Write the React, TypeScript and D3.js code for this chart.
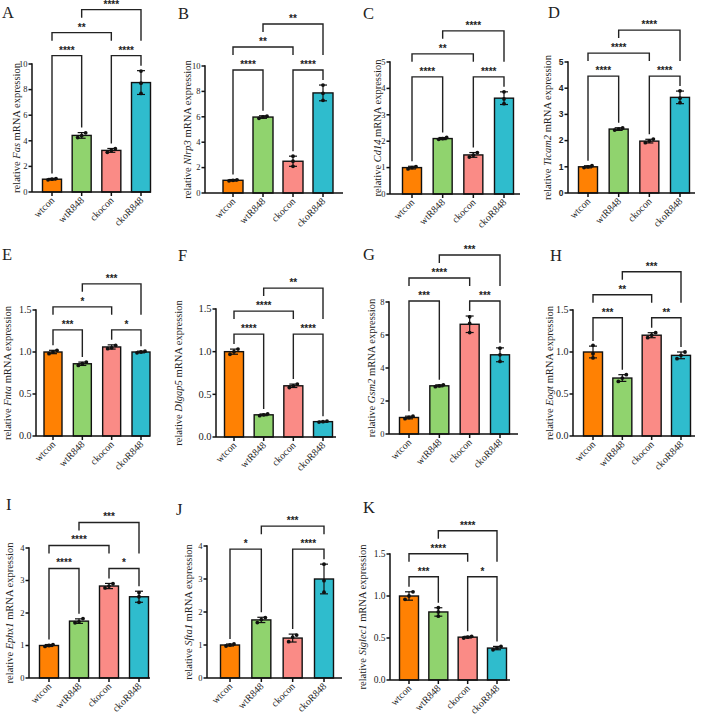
import React from "react"
import * as d3 from "d3"

const W = 702
const H = 719

const groups = ["wtcon", "wtR848", "ckocon", "ckoR848"]
const colors = ["#ff8103", "#90d36e", "#fa8b86", "#2fbccd"]

const letters = ["A", "B", "C", "D", "E", "F", "G", "H", "I", "J", "K"]
const genes = ["Fas", "Nlrp3", "Cd14", "Ticam2", "Fnta", "Dlgap5", "Gsm2", "Eogt", "Ephx1", "Sfta1", "Siglec1"]
const yMaxes = [10, 10, 5, 5, 1.5, 1.5, 8, 1.5, 4, 4, 1.5]
const yTickSteps = [2, 2, 1, 1, 0.5, 0.5, 2, 0.5, 1, 1, 0.5]

// mean relative expression per group, one row per gene
const means = [
  [1.0, 4.42, 3.25, 8.55],
  [1.0, 5.98, 2.5, 7.88],
  [1.0, 2.1, 1.48, 3.63],
  [1.0, 2.44, 1.98, 3.65],
  [1.0, 0.86, 1.06, 1.0],
  [1.0, 0.26, 0.6, 0.18],
  [1.0, 2.92, 6.65, 4.8],
  [1.0, 0.69, 1.2, 0.96],
  [1.0, 1.75, 2.83, 2.5],
  [1.0, 1.76, 1.21, 3.0],
  [1.0, 0.81, 0.51, 0.38],
]

// standard deviations
const sds = [
  [0.06, 0.22, 0.15, 0.93],
  [0.06, 0.1, 0.4, 0.62],
  [0.05, 0.04, 0.09, 0.24],
  [0.04, 0.05, 0.07, 0.24],
  [0.02, 0.02, 0.025, 0.01],
  [0.03, 0.01, 0.02, 0.005],
  [0.08, 0.06, 0.5, 0.42],
  [0.07, 0.04, 0.03, 0.04],
  [0.03, 0.07, 0.08, 0.17],
  [0.03, 0.08, 0.12, 0.45],
  [0.05, 0.05, 0.01, 0.02],
]

// three replicates per group
const replicates = [
  [[0.95, 1.0, 1.05], [4.25, 4.4, 4.62], [3.1, 3.25, 3.38], [7.7, 8.5, 9.45]],
  [[0.96, 1.0, 1.04], [5.88, 6.0, 6.05], [2.1, 2.5, 2.9], [7.3, 7.85, 8.5]],
  [[0.95, 1.0, 1.04], [2.07, 2.1, 2.14], [1.4, 1.47, 1.57], [3.42, 3.6, 3.87]],
  [[0.97, 1.0, 1.04], [2.4, 2.44, 2.48], [1.92, 1.98, 2.06], [3.45, 3.62, 3.9]],
  [[0.98, 1.0, 1.02], [0.84, 0.86, 0.88], [1.04, 1.05, 1.08], [0.99, 1.0, 1.01]],
  [[0.97, 1.0, 1.03], [0.25, 0.26, 0.27], [0.58, 0.6, 0.62], [0.175, 0.18, 0.185]],
  [[0.93, 1.0, 1.08], [2.87, 2.92, 2.98], [6.15, 6.7, 7.1], [4.4, 4.8, 5.2]],
  [[0.93, 0.98, 1.08], [0.65, 0.69, 0.73], [1.17, 1.2, 1.23], [0.92, 0.96, 1.0]],
  [[0.97, 1.0, 1.03], [1.7, 1.73, 1.83], [2.77, 2.83, 2.9], [2.33, 2.5, 2.63]],
  [[0.97, 1.0, 1.03], [1.68, 1.77, 1.83], [1.1, 1.24, 1.3], [2.6, 2.95, 3.45]],
  [[0.96, 1.0, 1.05], [0.76, 0.81, 0.86], [0.5, 0.51, 0.52], [0.36, 0.38, 0.4]],
]

// significance brackets: [from group, to group, tier, stars]
const brackets: [number, number, number, string][][] = [
  [[0, 1, 1, "****"], [2, 3, 1, "****"], [0, 2, 2, "**"], [1, 3, 3, "****"]],
  [[0, 1, 1, "****"], [2, 3, 1, "****"], [0, 2, 2, "**"], [1, 3, 3, "**"]],
  [[0, 1, 1, "****"], [2, 3, 1, "****"], [0, 2, 2, "**"], [1, 3, 3, "****"]],
  [[0, 1, 1, "****"], [2, 3, 1, "****"], [0, 2, 2, "****"], [1, 3, 3, "****"]],
  [[0, 1, 1, "***"], [2, 3, 1, "*"], [0, 2, 2, "*"], [1, 3, 3, "***"]],
  [[0, 1, 1, "****"], [2, 3, 1, "****"], [0, 2, 2, "****"], [1, 3, 3, "**"]],
  [[0, 1, 1, "***"], [2, 3, 1, "***"], [0, 2, 2, "****"], [1, 3, 3, "***"]],
  [[0, 1, 1, "***"], [2, 3, 1, "**"], [0, 2, 2, "**"], [1, 3, 3, "***"]],
  [[0, 1, 1, "****"], [2, 3, 1, "*"], [0, 2, 2, "****"], [1, 3, 3, "***"]],
  [[0, 1, 1, "*"], [2, 3, 1, "****"], [1, 3, 2, "***"]],
  [[0, 1, 1, "***"], [2, 3, 1, "*"], [0, 2, 2, "****"], [1, 3, 3, "****"]],
]

// panel frames: y axis x, x axis end, first/last bar centre, top tick / zero y,
// bar width, y title offset, tick font size, letter position
const frames = [
  { ax: 32, xEnd: 151, c0: 52, c3: 141, yTop: 64, yZero: 192, bw: 19, lab: 15, tf: 8.5, lx: 2, ly: 18 },
  { ax: 205, xEnd: 343, c0: 233, c3: 323, yTop: 66, yZero: 193, bw: 20, lab: 17, tf: 8.5, lx: 178, ly: 19 },
  { ax: 390, xEnd: 520, c0: 412, c3: 504, yTop: 62, yZero: 194, bw: 19, lab: 12, tf: 8.5, lx: 363, ly: 19 },
  { ax: 568, xEnd: 695, c0: 588, c3: 680, yTop: 62, yZero: 193, bw: 19, lab: 20, tf: 8.5, lx: 548, ly: 18 },
  { ax: 36, xEnd: 150, c0: 53, c3: 141, yTop: 310, yZero: 436, bw: 18, lab: 28, tf: 10, lx: 2, ly: 260 },
  { ax: 216, xEnd: 336, c0: 234, c3: 323, yTop: 309, yZero: 437, bw: 19, lab: 37, tf: 10.5, lx: 178, ly: 261 },
  { ax: 389, xEnd: 518, c0: 409, c3: 500, yTop: 302, yZero: 434, bw: 19, lab: 17, tf: 8.5, lx: 363, ly: 260 },
  { ax: 573, xEnd: 695, c0: 593, c3: 681, yTop: 310, yZero: 436, bw: 19, lab: 23, tf: 10, lx: 550, ly: 261 },
  { ax: 29, xEnd: 150, c0: 49, c3: 139, yTop: 548, yZero: 678, bw: 19, lab: 19, tf: 8.5, lx: 6, ly: 510 },
  { ax: 207, xEnd: 342, c0: 230, c3: 324, yTop: 546, yZero: 678, bw: 19, lab: 18, tf: 8.5, lx: 176, ly: 515 },
  { ax: 390, xEnd: 510, c0: 409, c3: 497, yTop: 554, yZero: 680, bw: 19, lab: 27, tf: 9.5, lx: 363, ly: 513 },
]

const serif = "'Liberation Serif', 'Times New Roman', serif"
const sans = "'Liberation Sans', Arial, sans-serif"

function Panel({ p }: { p: number }) {
  const f = frames[p]
  const step = (f.c3 - f.c0) / 3
  const pad = 1 - f.bw / step
  const x = d3.scaleBand().domain(groups).range([f.c0 - step / 2, f.c3 + step / 2])
    .paddingInner(pad).paddingOuter(pad / 2)
  const y = d3.scaleLinear().domain([0, yMaxes[p]]).range([f.yZero, f.yTop])
  const ticks = d3.range(0, yMaxes[p] + yTickSteps[p] / 2, yTickSteps[p])
  const fmt = yMaxes[p] < 2 ? d3.format(".1f") : d3.format("d")
  const cx = (i: number) => (x(groups[i]) as number) + x.bandwidth() / 2

  const errTop = means[p].map((m, i) => y(m + sds[p][i]))
  const tier1 = (d3.min(errTop) as number) - 15
  const tierY = (t: number) => tier1 - (t - 1) * 23
  const legEnd = (i: number, t: number) => {
    let end = errTop[i] - 5
    brackets[p].forEach(([a, b, t2]) => {
      if (t2 < t && a <= i && i <= b) end = Math.min(end, tierY(t2) - 15)
    })
    return end
  }

  const bold = p === 3
  const midY = (f.yTop + f.yZero) / 2

  return (
    <g>
      <text x={f.lx} y={f.ly} fontFamily={serif} fontSize={16.5} fill="#222">{letters[p]}</text>

      {groups.map((g, i) => (
        <rect key={g} x={x(g)} y={y(means[p][i])} width={x.bandwidth()}
          height={f.yZero - y(means[p][i])} fill={colors[i]} stroke="#111" strokeWidth={1.4} />
      ))}

      {groups.map((g, i) => {
        const lo = y(means[p][i] - sds[p][i])
        const hi = y(means[p][i] + sds[p][i])
        const c = cx(i)
        return (
          <g key={g} stroke="#111" strokeWidth={1.2}>
            <line x1={c} x2={c} y1={lo} y2={hi} />
            <line x1={c - 4} x2={c + 4} y1={hi} y2={hi} />
            <line x1={c - 4} x2={c + 4} y1={lo} y2={lo} />
          </g>
        )
      })}

      {replicates[p].map((vals, i) => {
        const spread = y(d3.min(vals) as number) - y(d3.max(vals) as number) < 8
        return vals.map((v, k) => (
          <circle key={i + "-" + k} cx={cx(i) + (spread ? (k - 1) * 4 : 0)} cy={y(v)} r={1.9} fill="#111" />
        ))
      })}

      <g stroke="#111" strokeWidth={1.5} fill="none">
        <line x1={f.ax} x2={f.ax} y1={f.yTop - 0.75} y2={f.yZero} />
        <line x1={f.ax} x2={f.xEnd} y1={f.yZero} y2={f.yZero} />
        {ticks.map(t => (
          <line key={t} x1={f.ax - 3.5} x2={f.ax} y1={y(t)} y2={y(t)} />
        ))}
        {groups.map((g, i) => (
          <line key={g} x1={cx(i)} x2={cx(i)} y1={f.yZero} y2={f.yZero + 4} />
        ))}
      </g>

      {ticks.map(t => (
        <text key={t} x={f.ax - 4.5} y={y(t)} dy="0.33em" textAnchor="end"
          fontFamily={bold ? sans : serif} fontWeight={bold ? "bold" : "normal"}
          fontSize={f.tf} fill="#222">{fmt(t)}</text>
      ))}

      {groups.map((g, i) => (
        <text key={g} transform={`translate(${cx(i) + 3},${f.yZero + 9}) rotate(-45)`}
          textAnchor="end" fontFamily={serif} fontSize={10} fill="#222">{g}</text>
      ))}

      <text transform={`translate(${f.ax - f.lab},${midY}) rotate(-90)`} dy="0.3em"
        textAnchor="middle" fontFamily={serif} fontSize={10.5} fill="#222">
        relative <tspan fontStyle="italic">{genes[p]}</tspan> mRNA expression
      </text>

      {brackets[p].map(([a, b, t, label]) => {
        const by = tierY(t)
        const xa = cx(a)
        const xb = cx(b)
        const path = d3.path()
        path.moveTo(xa, legEnd(a, t))
        path.lineTo(xa, by)
        path.lineTo(xb, by)
        path.lineTo(xb, legEnd(b, t))
        return (
          <g key={a + "-" + b}>
            <path d={path.toString()} fill="none" stroke="#222" strokeWidth={1.4} />
            <text x={(xa + xb) / 2} y={by - 2} textAnchor="middle" fontFamily={sans}
              fontWeight="bold" fontSize={10} fill="#222">{label}</text>
          </g>
        )
      })}
    </g>
  )
}

export default function App() {
  return (
    <svg width={W} height={H} style={{ position: "absolute", left: 0, top: 0, background: "#fff" }}>
      {letters.map((l, p) => <Panel key={l} p={p} />)}
    </svg>
  )
}
